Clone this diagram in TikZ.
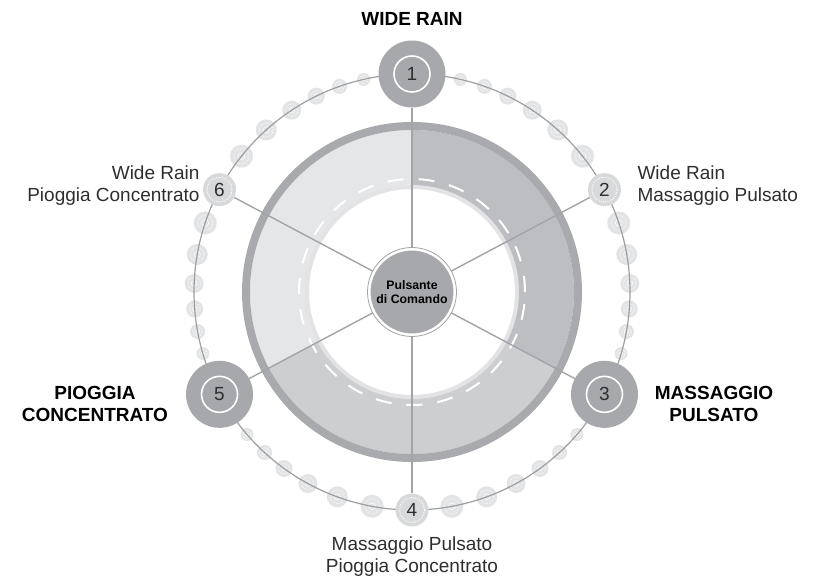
\documentclass[tikz,border=0pt]{standalone}
\usepackage{fontspec}
\setmainfont{Liberation Sans}
\definecolor{bigfill}{HTML}{A7A8AB}
\definecolor{ringborder}{HTML}{A9AAAD}
\definecolor{segTR}{HTML}{BDBEC1}
\definecolor{segTL}{HTML}{E5E6E8}
\definecolor{segB}{HTML}{CDCED0}
\definecolor{smallfill}{HTML}{D8D9DA}
\definecolor{dotfill}{HTML}{E2E3E4}
\definecolor{linecol}{HTML}{9D9EA1}
\definecolor{spokecol}{HTML}{A3A4A7}
\definecolor{innerband}{HTML}{E3E3E5}
\definecolor{numcol}{HTML}{2E2E2E}
\pgfdeclarelayer{ringlayer}
\pgfdeclarelayer{spokelayer}
\pgfsetlayers{ringlayer,spokelayer,main}
\tikzset{
  bignode/.style={circle, fill=bigfill, minimum size=67pt, inner sep=0pt, text=numcol, font=\fontsize{19}{22}\selectfont},
  smallnode/.style={circle, fill=smallfill, minimum size=33pt, inner sep=0pt, text=numcol, font=\fontsize{19}{22}\selectfont},
  centernode/.style={circle, fill=bigfill, draw=white, line width=3pt, minimum size=86pt, inner sep=0pt, align=center, font=\bfseries\fontsize{12.3}{13.5}\selectfont},
  spoke/.style={draw=spokecol, line width=1.4pt},
  ringline/.style={draw=linecol, line width=1.2pt},
  dotring/.style={draw=white, line width=0.7pt, dash pattern=on 0.7pt off 1.1pt},
  boldlab/.style={font=\bfseries\fontsize{19}{22}\selectfont, anchor=base},
  reglab/.style={font=\fontsize{19}{22}\selectfont, text=numcol, anchor=base}
}
\begin{document}
\begin{tikzpicture}[x=1pt,y=1pt]
\useasboundingbox (0,0) rectangle (814,583);
\begin{scope}[shift={(412,291)}]
  % ring
  \begin{pgfonlayer}{ringlayer}
    \fill[segTR] (90:162) arc[start angle=90,end angle=-28,radius=162] -- (-28:104) arc[start angle=-28,end angle=90,radius=104] -- cycle;
    \fill[segTL] (90:162) arc[start angle=90,end angle=208,radius=162] -- (208:104) arc[start angle=208,end angle=90,radius=104] -- cycle;
    \fill[segB] (208:162) arc[start angle=208,end angle=332,radius=162] -- (332:104) arc[start angle=332,end angle=208,radius=104] -- cycle;
    \draw[ringborder, line width=8pt] (0,0) circle[radius=166];
    \fill[white] (0,0) circle[radius=105];
    \draw[innerband, line width=4pt] (0,0) circle[radius=105];
    \draw[white, line width=2pt, dash pattern=on 16pt off 15pt] (0,0) circle[radius=113];
  \end{pgfonlayer}
  % nodes
  \node[centernode] (c) at (0,0) {Pulsante\\di Comando};
  \draw[spokecol, line width=0.8pt] (c.center) circle[radius=44.5];
  \node[bignode] (n1) at (90:218) {1};
  \node[smallnode] (n2) at (28:218) {2};
  \node[bignode] (n3) at (-28:218) {3};
  \node[smallnode] (n4) at (-90:218) {4};
  \node[bignode] (n5) at (208:218) {5};
  \node[smallnode] (n6) at (152:218) {6};
  \foreach \nn in {n1,n3,n5} { \draw[white, line width=1.6pt] (\nn.center) circle[radius=18]; }
  \foreach \nn in {n2,n4,n6} { \draw[dotring, line width=1pt, dash pattern=on 0.9pt off 1.3pt] (\nn.center) circle[radius=12.5]; }
  % dots, outer line, spokes
  \begin{pgfonlayer}{spokelayer}
    \foreach \sa/\sb in {90/152, 90/28, -28/28, -28/-90, 208/270, 208/152} {
      \foreach \ff/\rr in {0.207/6.5, 0.313/7.5, 0.42/8.5, 0.54/9.5, 0.677/10.5, 0.83/11.5} {
        \pgfmathsetmacro\ang{\sa+\ff*(\sb-\sa)}
        \fill[dotfill] (\ang:218) circle[radius=\rr];
        \draw[dotring] (\ang:218) circle[radius=0.65*\rr];
        \draw[white, line width=0.5pt] (\ang:218) circle[radius=0.3*\rr];
      }
    }
    \draw[ringline] (0,0) circle[radius=218];
    \foreach \nn in {n1,n2,n3,n4,n5,n6} { \draw[spoke] (c) -- (\nn); }
  \end{pgfonlayer}
\end{scope}
% labels
\node[boldlab] (lw) at (412,557) {WIDE RAIN};
\node[boldlab] (lp1) at (95,183) {PIOGGIA};
\node[boldlab] (lp2) at (95,161) {CONCENTRATO};
\node[boldlab] (lm1) at (714,183) {MASSAGGIO};
\node[boldlab] (lm2) at (714,161) {PULSATO};
\node[reglab, anchor=base east] (l6a) at (203,403) {Wide Rain};
\node[reglab, anchor=base east] (l6b) at (203,381) {Pioggia Concentrato};
\node[reglab, anchor=base west] (l2a) at (634,403) {Wide Rain};
\node[reglab, anchor=base west] (l2b) at (634,381) {Massaggio Pulsato};
\node[reglab] (l4a) at (412,32) {Massaggio Pulsato};
\node[reglab] (l4b) at (412,10) {Pioggia Concentrato};
\end{tikzpicture}
\end{document}
